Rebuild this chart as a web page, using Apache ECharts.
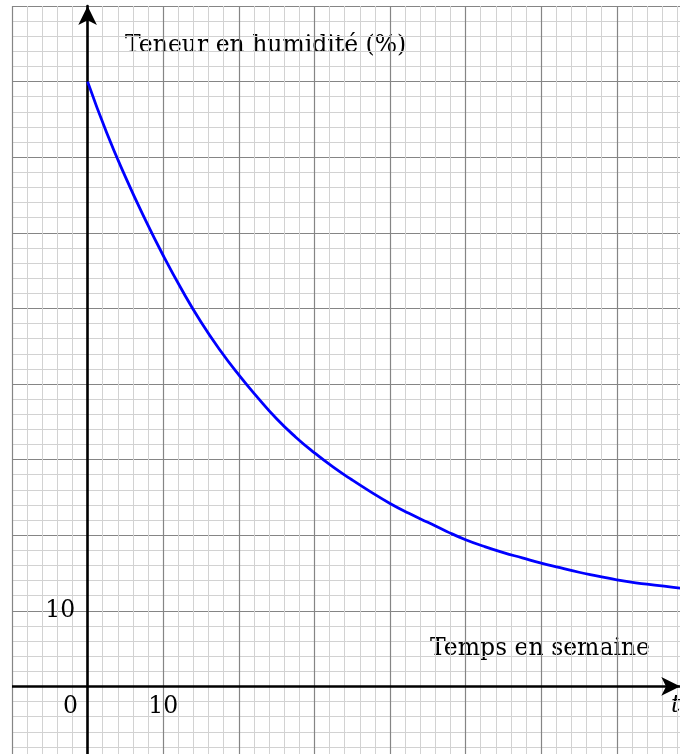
<!DOCTYPE html>
<html>
<head>
<meta charset="utf-8">
<script src="https://cdn.jsdelivr.net/npm/echarts@6/dist/echarts.min.js"></script>
<style>
html,body{margin:0;padding:0;background:#fff;}
#chart{width:680px;height:754px;}
</style>
</head>
<body>
<div id="chart"></div>
<script>
// Time in weeks and humidity content (%)
const tWeeks   = [0, 2.5, 5, 7.5, 10, 12.5, 15, 17.5, 20, 22.5, 25, 27.5, 30, 32.5, 35, 37.5, 40,
                  42.5, 45, 47.5, 50, 52.5, 55, 57.5, 60, 62.5, 65, 67.5, 70, 72.5, 75, 77.5, 80];
const humidity = [80, 73.3, 67.4, 62.0, 57.0, 52.4, 48.2, 44.5, 41.2, 38.2, 35.4, 33.0, 30.9, 29.0, 27.3, 25.7, 24.2,
                  22.9, 21.7, 20.5, 19.4, 18.5, 17.7, 17.0, 16.3, 15.7, 15.1, 14.6, 14.1, 13.7, 13.4, 13.1, 12.8];
const xTickValues = [10];
const yTickValues = [10];
const originLabel = '0';
const yTitle = 'Teneur en humidité (%)';
const xTitle = 'Temps en semaine';
const xVarName = 't';
const xAxisExtent = [-10, 78.4];

const FONT = 'DejaVu Serif';
const FS = 23.5;
const chart = echarts.init(document.getElementById('chart'), null, {renderer: 'canvas'});

const seriesData = tWeeks.map((t, i) => [t, humidity[i]]);

const labelStyle = {show: true, color: '#000000', opacity: 1, textBorderWidth: 0, textShadowBlur: 0,
  fontFamily: FONT, fontSize: FS, formatter: p => p.name};
const tickLabelData = []
  .concat(xTickValues.map(v => ({name: String(v), value: [v, 0], label: Object.assign({}, labelStyle, {position: 'bottom', distance: 8})})))
  .concat(yTickValues.map(v => ({name: String(v), value: [0, v], label: Object.assign({}, labelStyle, {position: 'left', distance: 12})})))
  .concat([{name: originLabel, value: [0, 0], label: Object.assign({}, labelStyle, {position: 'bottom', distance: 8, offset: [-17, 0]})}]);

const gridLine = {show: true, lineStyle: {color: '#858585', width: 1.2}};
const minorLine = {show: true, lineStyle: {color: '#d2d2d2', width: 1}};

chart.setOption({
  animation: false,
  backgroundColor: '#ffffff',
  grid: {left: 12, top: 6, width: 680.4, height: 756, containLabel: false, outerBoundsMode: 'none'},
  xAxis: {
    type: 'value', min: -10, max: 80, interval: 10,
    axisLine: {show: false, onZero: true},
    axisTick: {show: false},
    minorTick: {show: false, splitNumber: 5},
    splitLine: gridLine,
    minorSplitLine: minorLine,
    axisLabel: {show: false}
  },
  yAxis: {
    type: 'value', min: -10, max: 90, interval: 10,
    axisLine: {show: true, onZero: true, symbol: ['none', 'arrow'], symbolSize: [14, 19],
      lineStyle: {color: '#000', width: 2.6}},
    axisTick: {show: false},
    minorTick: {show: false, splitNumber: 5},
    splitLine: gridLine,
    minorSplitLine: minorLine,
    axisLabel: {show: false}
  },
  series: [{
    type: 'line',
    data: seriesData,
    smooth: true,
    showSymbol: false,
    symbol: 'none',
    clip: false,
    lineStyle: {color: '#0000ff', width: 2.8},
    z: 3,
    markLine: {
      silent: true,
      symbol: ['none', 'arrow'],
      symbolSize: [14, 19],
      label: {show: false},
      lineStyle: {color: '#000', width: 2.6, type: 'solid'},
      emphasis: {disabled: true},
      data: [[{coord: [xAxisExtent[0], 0]}, {coord: [xAxisExtent[1], 0]}]]
    }
  }, {
    type: 'scatter',
    data: tickLabelData,
    symbolSize: 1,
    silent: true,
    itemStyle: {color: 'rgba(255,255,255,0)'},
    emphasis: {disabled: true},
    z: 4
  }],
  graphic: [
    {type: 'text', left: 125, top: 34, style: {text: yTitle, fill: '#000', font: FS + 'px "' + FONT + '"'}},
    {type: 'text', left: 430, top: 637, style: {text: xTitle, fill: '#000', font: FS + 'px "' + FONT + '"'}},
    {type: 'text', left: 671, top: 694, style: {text: xVarName, fill: '#000', font: 'italic ' + FS + 'px "' + FONT + '"'}}
  ]
});
</script>
</body>
</html>
